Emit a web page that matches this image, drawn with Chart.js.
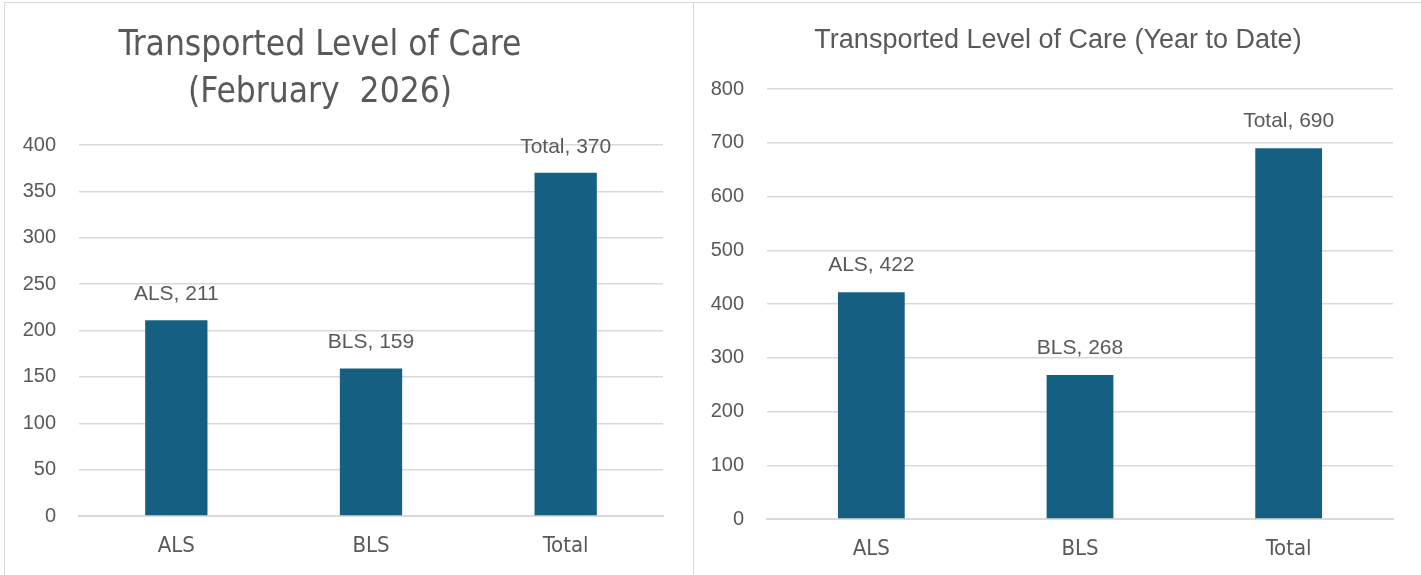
<!DOCTYPE html>
<html>
<head>
<meta charset="utf-8">
<script src="https://cdn.jsdelivr.net/npm/chart.js@4/dist/chart.umd.min.js"></script>
<style>
    body { margin: 0; background: #fff; width: 1421px; height: 575px; overflow: hidden; position: relative; }
    .panel { position: absolute; top: 2px; height: 580px; border: 1px solid #d9d9d9; box-sizing: border-box; }
    #leftPanel { left: 4px; width: 690px; }
    #rightPanel { left: 693px; width: 730px; }
    canvas { display: block; }
</style>
</head>
<body>
<div class="panel" id="leftPanel"><canvas id="monthChart"></canvas></div>
<div class="panel" id="rightPanel"><canvas id="ytdChart"></canvas></div>
<script>
// Datos de las gráficas
const categories = ['ALS', 'BLS', 'Total'];
const monthValues = [211, 159, 370];
const ytdValues = [422, 268, 690];
const monthTicks = { max: 400, step: 50 };
const ytdTicks = { max: 800, step: 100 };

const barColor = '#156082';
const textColor = '#595959';
const gridColor = '#d9d9d9';

// Título dibujado a mano (posición libre)
const titleLines = {
    id: 'titleLines',
    afterDraw(chart, args, opts) {
        const ctx = chart.ctx;
        ctx.save();
        ctx.fillStyle = textColor;
        ctx.font = opts.font;
        ctx.textAlign = 'center';
        ctx.textBaseline = 'middle';
        opts.lines.forEach((line, i) => ctx.fillText(line, opts.x, opts.y[i]));
        ctx.restore();
    }
};

// Etiquetas "categoria, valor" sobre las barras
const barLabels = {
    id: 'barLabels',
    afterDatasetsDraw(chart, args, opts) {
        const ctx = chart.ctx;
        const meta = chart.getDatasetMeta(0);
        const data = chart.data.datasets[0].data;
        ctx.save();
        ctx.fillStyle = textColor;
        ctx.font = opts.font;
        ctx.textAlign = 'center';
        ctx.textBaseline = 'middle';
        meta.data.forEach((bar, i) => {
            ctx.fillText(chart.data.labels[i] + ', ' + data[i], bar.x, bar.y - opts.offset);
        });
        ctx.restore();
    }
};

function makeChart(id, values, ticks, cfg) {
    const canvas = document.getElementById(id);
    canvas.width = cfg.width;
    canvas.height = cfg.height;
    canvas.style.width = cfg.width + 'px';
    canvas.style.height = cfg.height + 'px';
    return new Chart(canvas, {
        type: 'bar',
        data: {
            labels: categories,
            datasets: [{
                data: values,
                backgroundColor: barColor,
                categoryPercentage: 1,
                barPercentage: 0.32
            }]
        },
        plugins: [titleLines, barLabels],
        options: {
            responsive: false,
            animation: false,
            layout: { padding: cfg.padding },
            plugins: {
                legend: { display: false },
                tooltip: { enabled: false },
                title: { display: false },
                titleLines: cfg.title,
                barLabels: { font: cfg.labelFont, offset: cfg.labelOffset }
            },
            scales: {
                x: {
                    grid: { display: false, drawTicks: false },
                    border: { color: gridColor, width: 2 },
                    ticks: { color: textColor, font: { family: cfg.catFamily, size: 22 }, padding: cfg.xPad },
                    afterFit(scale) { scale.height = cfg.xHeight; }
                },
                y: {
                    min: 0,
                    max: ticks.max,
                    grid: { color: gridColor, lineWidth: 1.5, drawTicks: false },
                    border: { display: false },
                    ticks: { stepSize: ticks.step, color: textColor, font: { family: cfg.tickFamily, size: 20 }, padding: cfg.yPad },
                    afterFit(scale) { scale.width = cfg.yWidth; }
                }
            }
        }
    });
}

makeChart('monthChart', monthValues, monthTicks, {
    width: 688, height: 572,
    padding: { top: 142, right: 30, bottom: 0, left: 0 },
    yWidth: 74, xHeight: 59, yPad: 23, xPad: 17,
    catFamily: '"Liberation Sans Narrow", "DejaVu Sans Condensed", sans-serif',
    tickFamily: '"Liberation Sans", sans-serif',
    labelFont: '21px "Liberation Sans", sans-serif',
    labelOffset: 26,
    title: {
        lines: ['Transported Level of Care', '(February  2026)'],
        font: '35px "Liberation Sans Narrow", "DejaVu Sans Condensed", sans-serif',
        x: 315, y: [43, 90]
    }
});

makeChart('ytdChart', ytdValues, ytdTicks, {
    width: 727, height: 572,
    padding: { top: 86, right: 28, bottom: 0, left: 0 },
    yWidth: 73, xHeight: 56, yPad: 23, xPad: 17,
    catFamily: '"Liberation Sans Narrow", "DejaVu Sans Condensed", sans-serif',
    tickFamily: '"Liberation Sans", sans-serif',
    labelFont: '21px "Liberation Sans", sans-serif',
    labelOffset: 27,
    title: {
        lines: ['Transported Level of Care (Year to Date)'],
        font: '27px "Liberation Sans", sans-serif',
        x: 364, y: [38]
    }
});
</script>
</body>
</html>
